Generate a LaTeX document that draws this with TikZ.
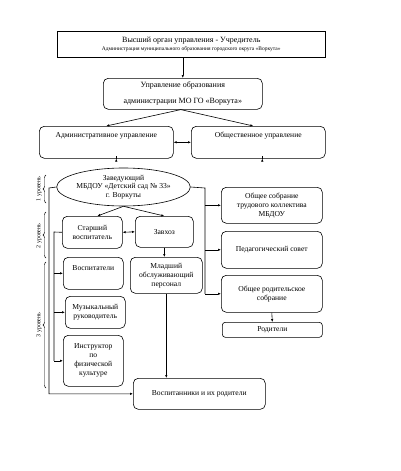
\documentclass[tikz,border=0pt]{standalone}
\usepackage{fontspec}
\setmainfont{Liberation Serif}
\usetikzlibrary{arrows.meta,decorations.pathreplacing,shapes.geometric,calc}
\begin{document}
\begin{tikzpicture}[x=1pt,y=-1pt,
 txt/.style={font=\fontsize{7.6}{9}\selectfont},
 box/.style={draw, rounded corners=5pt, anchor=north west, align=center, inner sep=1pt, txt, line width=0.6pt},
 toplab/.style={anchor=north, yshift=-3pt, txt},
 arr/.style={-{Latex[length=3pt,width=2.5pt]}, line width=0.6pt},
 dbl/.style={{Latex[length=3pt,width=2.5pt]}-{Latex[length=3pt,width=2.5pt]}, line width=0.6pt},
 ln/.style={line width=0.6pt},
 brc/.style={decorate, decoration={brace, amplitude=3pt}, line width=0.45pt},
 lvl/.style={rotate=90, font=\fontsize{6}{7}\selectfont}]
\useasboundingbox (0,0) rectangle (400,471);

\node[box, sharp corners, minimum width=268, minimum height=26] (top) at (57,31)
 {{\fontsize{8}{9}\selectfont Высший орган управления - Учредитель}\\[-1pt]
  {\fontsize{5.5}{7}\selectfont Администрация муниципального образования городского округа «Воркута»}};

\node[box, minimum width=159, minimum height=31, font=\fontsize{8}{16}\selectfont] (upr) at (103,78)
 {Управление образования\\администрации МО ГО «Воркута»};

\node[box, minimum width=134, minimum height=32,
 label={[name=admt, toplab]north:Административное управление}] (adm) at (39,126) {};
\node[box, minimum width=134, minimum height=32,
 label={[name=obst, toplab]north:Общественное управление}] (obs) at (191,126) {};

\node[draw, ellipse, minimum width=133, minimum height=38, inner sep=0pt, align=center,
 font=\fontsize{7.6}{8.5}\selectfont, line width=0.6pt] (zav) at (123.5,187)
 {Заведующий\\МБДОУ «Детский сад № 33»\\г. Воркуты};

\node[box, minimum width=101, minimum height=36] (os) at (221,187)
 {Общее собрание\\трудового коллектива\\МБДОУ};
\node[box, minimum width=101, minimum height=37] (ps) at (221,231) {Педагогический совет};
\node[box, minimum width=101, minimum height=37] (ors) at (221,275) {Общее родительское\\собрание};
\node[box, minimum width=100, minimum height=15, rounded corners=3pt] (rod) at (222,322) {Родители};

\node[box, minimum width=60, minimum height=32] (sv) at (62,216) {Старший\\воспитатель};
\node[box, minimum width=58, minimum height=31] (zh) at (135,216) {Завхоз};
\node[box, minimum width=60, minimum height=32,
 label={[name=vost, toplab, yshift=-2pt]north:Воспитатели}] (vos) at (63,257) {};
\node[box, minimum width=60, minimum height=32] (mr) at (65,296) {Музыкальный\\руководитель};
\node[box, minimum width=60, minimum height=51] (ins) at (63,335) {Инструктор\\по\\физической\\культуре};
\node[box, minimum width=72, minimum height=36] (mop) at (130,257) {Младший\\обслуживающий\\персонал};
\node[box, minimum width=132, minimum height=31] (vir) at (133,378) {Воспитанники и их родители};

% connectors
\draw[arr] (top.south -| upr.north) -- (upr.north);
\draw[arr] ($(upr.south)+(-2,0)$) -- (adm.north);
\draw[arr] ($(upr.south)+(-2,0)$) -- ($(obs.north)+(-5,0)$);
\draw[dbl] (adm.east) -- (obs.west);
\draw[arr] ($(adm.south)+(10,0)$) -- ($(adm.south)+(10,0)$ |- zav.north);
\draw[arr] ($(obs.south)+(4,0)$) -- ($(obs.south)+(4,0)$ |- os.north);
\draw[arr] (zav.south) -- ($(sv.north)+(5,0)$);
\draw[arr] (zav.south) -- (zh.north);
\draw[dbl] (sv.east) -- (zh.west);
\draw[arr] (zh.south) -- (zh.south |- mop.north);
\draw[arr] (mop.south) -- (mop.south |- vir.north);
\draw[arr] (ors.south) -- (rod.north);

\coordinate (rb) at (205,188);
\draw[ln] (zav.east) -- (rb) -- (rb |- ors.west);
\draw[arr] (rb |- os.west) -- (os.west);
\draw[arr] (rb |- ps.west) -- (ps.west);
\draw[arr] (rb |- ors.west) -- (ors.west);

\coordinate (lo) at (49,188);
\draw[arr] (zav.west) -- (lo) |- (vir.west);

\coordinate (li) at (54,232);
\draw[ln] (sv.west) -- (li) -- (li |- ins.west);
\draw[arr] (li |- vos.west) -- (vos.west);
\draw[arr] (li |- mr.west) -- (mr.west);
\draw[arr] (li |- ins.west) -- (ins.west);

% levels
\draw[brc] (46,203) -- (46,175);
\node[lvl] (l1) at (39,189) {1 уровень};
\draw[brc] (46,258) -- (46,212);
\node[lvl] (l2) at (39,236) {2 уровень};
\draw[brc] (46,388) -- (46,262);
\node[lvl] (l3) at (39,325) {3 уровень};
\end{tikzpicture}
\end{document}
